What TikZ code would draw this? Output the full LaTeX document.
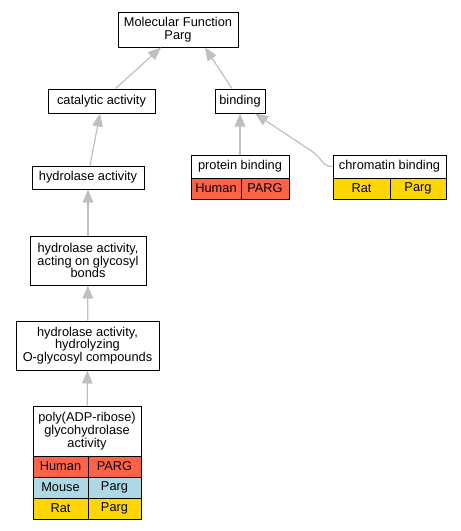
\documentclass[tikz,border=0pt]{standalone}
\usepackage{fontspec}
\setmainfont{Liberation Sans}
\usetikzlibrary{arrows.meta}
\definecolor{human}{HTML}{FF6347}
\definecolor{mouse}{HTML}{ADD8E6}
\definecolor{rat}{HTML}{FFD700}
\definecolor{edgec}{HTML}{C0C0C0}
\begin{document}
\begin{tikzpicture}[x=1pt,y=-1pt,
  font=\fontsize{12.8}{12.8}\selectfont,
  box/.style={draw=black,line width=1pt,fill=white,inner sep=0pt,align=center},
  cell/.style={draw=black,line width=1pt,inner sep=0pt,minimum height=21pt},
  isa/.style={draw=edgec,line width=1.2pt,-{Triangle[length=13pt,width=10.5pt,fill=edgec]}}]
\useasboundingbox (0,0) rectangle (461,531);
% nodes
\node[box,minimum width=120pt,minimum height=35pt] (mf) at (178,29.5) {Molecular Function\\Parg};
\node[box,minimum width=107pt,minimum height=24pt] (cat) at (101.5,101) {catalytic activity};
\node[box,minimum width=50pt,minimum height=24pt] (bind) at (240,101) {binding};
\node[box,minimum width=112pt,minimum height=23pt] (hyd) at (88,177.5) {hydrolase activity};
% protein binding
\node[box,minimum width=98pt,minimum height=23pt] (pb) at (240,166.5) {protein binding};
\node[cell,fill=human,minimum width=50pt] (pbh) at (216,188.5) {Human};
\node[cell,fill=human,minimum width=48pt] (pbp) at (265,188.5) {PARG};
% chromatin binding
\node[box,minimum width=113pt,minimum height=23pt] (cb) at (389.5,166.5) {chromatin binding};
\node[cell,fill=rat,minimum width=57pt] (cbr) at (361.5,188.5) {Rat};
\node[cell,fill=rat,minimum width=56pt] (cbp) at (418,188.5) {Parg};
% chain
\node[box,minimum width=116pt,minimum height=49pt] (acting) at (88,260.5) {hydrolase activity,\\acting on glycosyl\\bonds};
\node[box,minimum width=143pt,minimum height=49pt] (hydrol) at (87.5,345.5) {hydrolase activity,\\hydrolyzing\\O-glycosyl compounds};
\node[box,minimum width=108pt,minimum height=50pt] (poly) at (87,431) {poly(ADP-ribose)\\glycohydrolase\\activity};
\node[cell,fill=human,minimum width=55pt] (ph) at (60.5,466.5) {Human};
\node[cell,fill=human,minimum width=53pt] (pp) at (114.5,466.5) {PARG};
\node[cell,fill=mouse,minimum width=55pt] (mh) at (60.5,487.5) {Mouse};
\node[cell,fill=mouse,minimum width=53pt] (mp) at (114.5,487.5) {Parg};
\node[cell,fill=rat,minimum width=55pt] (rh) at (60.5,508.5) {Rat};
\node[cell,fill=rat,minimum width=53pt] (rp) at (114.5,508.5) {Parg};
% edges
\draw[isa] ([xshift=14pt]cat.north) -- ([xshift=-17pt]mf.south);
\draw[isa] ([xshift=-8pt]bind.north) -- ([xshift=27pt]mf.south);
\draw[isa] ([xshift=2pt]hyd.north) -- ([xshift=-1.5pt]cat.south);
\draw[isa] (acting) -- (hyd);
\draw[isa] (hydrol) -- (acting);
\draw[isa] (poly) -- (hydrol);
\draw[isa] (pb) -- (bind);
\draw[isa] (cb.west) .. controls (322,167) and (322,157) .. (310,150) -- ([xshift=15pt]bind.south);
\end{tikzpicture}
\end{document}
